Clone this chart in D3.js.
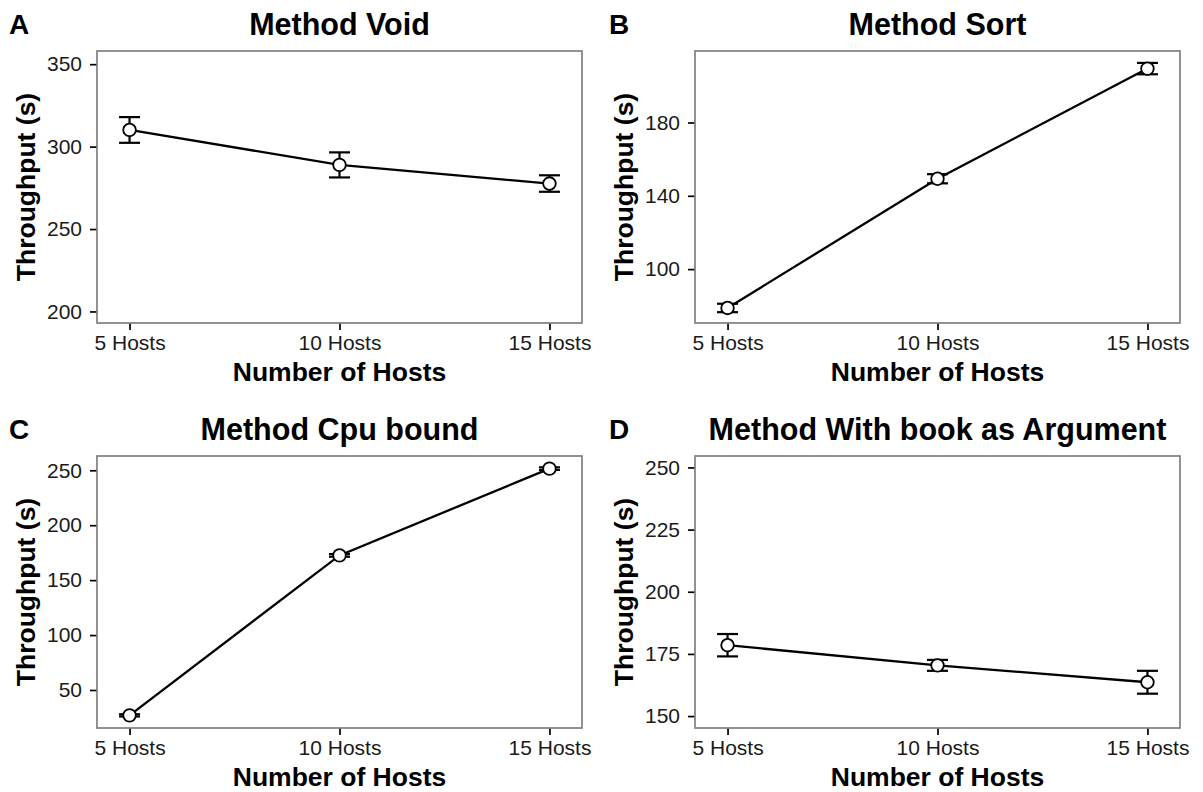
<!DOCTYPE html>
<html>
<head>
<meta charset="utf-8">
<script src="https://cdn.jsdelivr.net/npm/d3@7"></script>
<style>
  html, body { margin: 0; padding: 0; background: #ffffff; }
  svg { display: block; }
  text { font-family: "Liberation Sans", Arial, Helvetica, sans-serif; }
</style>
</head>
<body>
<svg id="chart" width="1203" height="792"></svg>
<script>
// ---- data ----
const categories = ["5 Hosts", "10 Hosts", "15 Hosts"];

const panelLabels = ["A", "B", "C", "D"];
const panelTitles = ["Method Void", "Method Sort", "Method Cpu bound", "Method With book as Argument"];

const voidMean = [310.1, 288.9, 277.6];
const voidErr  = [7.8, 7.6, 5.0];

const sortMean = [78.8, 149.3, 209.4];
const sortErr  = [2.3, 2.5, 3.1];

const cpuMean = [26.9, 172.5, 251.5];
const cpuErr  = [1.0, 1.2, 1.2];

const bookMean = [178.5, 170.4, 163.6];
const bookErr  = [4.5, 2.2, 4.6];

const voidTicks = [200, 250, 300, 350];
const sortTicks = [100, 140, 180];
const cpuTicks  = [50, 100, 150, 200, 250];
const bookTicks = [150, 175, 200, 225, 250];

const voidLimits = [193, 358];
const sortLimits = [70.6, 219];
const cpuLimits  = [15.4, 263];
const bookLimits = [145.2, 254.6];

const xTitle = "Number of Hosts";
const yTitle = "Throughput (s)";

// ---- layout ----
const panels = [
  { label: panelLabels[0], title: panelTitles[0], mean: voidMean, err: voidErr, ticks: voidTicks, lim: voidLimits, left: 97,  top: 51 },
  { label: panelLabels[1], title: panelTitles[1], mean: sortMean, err: sortErr, ticks: sortTicks, lim: sortLimits, left: 695, top: 51 },
  { label: panelLabels[2], title: panelTitles[2], mean: cpuMean,  err: cpuErr,  ticks: cpuTicks,  lim: cpuLimits,  left: 97,  top: 456 },
  { label: panelLabels[3], title: panelTitles[3], mean: bookMean, err: bookErr, ticks: bookTicks, lim: bookLimits, left: 695, top: 456 }
];
const PW = 485, PH = 272;
const capHalf = 10.5;

const svg = d3.select("#chart");

panels.forEach((p, i) => {
  const cellX = (i % 2) * 600;
  const g = svg.append("g");
  const x = d3.scalePoint().domain(categories).range([p.left, p.left + PW]).padding(0.155);
  const y = d3.scaleLinear().domain(p.lim).range([p.top + PH, p.top]);

  // panel label
  g.append("text")
    .attr("x", cellX + 9).attr("y", p.top - 17.5)
    .attr("font-size", 28).attr("font-weight", "bold")
    .text(p.label);

  // title
  g.append("text")
    .attr("x", p.left + PW / 2).attr("y", p.top - 16.5)
    .attr("text-anchor", "middle")
    .attr("font-size", 30.5).attr("font-weight", "bold")
    .text(p.title);

  // y axis
  const yAxis = d3.axisLeft(y).tickValues(p.ticks).tickSize(7).tickPadding(8).tickFormat(d3.format("d"));
  const ya = g.append("g").attr("transform", `translate(${p.left},0)`).call(yAxis);
  ya.select(".domain").remove();
  ya.selectAll(".tick line").attr("stroke", "#000").attr("stroke-width", 1.7);
  ya.selectAll(".tick text").attr("font-size", 21).attr("fill", "#1a1a1a")
    .attr("font-family", "Liberation Sans, Arial, sans-serif");

  // x axis
  const xAxis = d3.axisBottom(x).tickSize(7).tickPadding(5);
  const xa = g.append("g").attr("transform", `translate(0,${p.top + PH})`).call(xAxis);
  xa.select(".domain").remove();
  xa.selectAll(".tick line").attr("stroke", "#000").attr("stroke-width", 1.7);
  xa.selectAll(".tick text").attr("font-size", 21).attr("fill", "#1a1a1a")
    .attr("font-family", "Liberation Sans, Arial, sans-serif");

  // border
  g.append("rect")
    .attr("x", p.left).attr("y", p.top).attr("width", PW).attr("height", PH)
    .attr("fill", "none").attr("stroke", "#7f7f7f").attr("stroke-width", 1.7);

  // axis titles
  g.append("text")
    .attr("x", p.left + PW / 2).attr("y", p.top + PH + 58)
    .attr("text-anchor", "middle")
    .attr("font-size", 26.5).attr("font-weight", "bold")
    .text(xTitle);
  g.append("text")
    .attr("transform", `translate(${p.left - 62},${p.top + PH / 2}) rotate(-90)`)
    .attr("text-anchor", "middle")
    .attr("font-size", 26.5).attr("font-weight", "bold")
    .text(yTitle);

  const data = categories.map((c, k) => ({ c, m: p.mean[k], e: p.err[k] }));

  // error bars
  const eb = g.append("g").attr("stroke", "#000").attr("stroke-width", 2.2).attr("fill", "none");
  data.forEach(d => {
    const cx = x(d.c);
    eb.append("line").attr("x1", cx).attr("x2", cx).attr("y1", y(d.m - d.e)).attr("y2", y(d.m + d.e));
    eb.append("line").attr("x1", cx - capHalf).attr("x2", cx + capHalf).attr("y1", y(d.m + d.e)).attr("y2", y(d.m + d.e));
    eb.append("line").attr("x1", cx - capHalf).attr("x2", cx + capHalf).attr("y1", y(d.m - d.e)).attr("y2", y(d.m - d.e));
  });

  // line
  g.append("path").datum(data)
    .attr("fill", "none").attr("stroke", "#000").attr("stroke-width", 2.3)
    .attr("d", d3.line().x(d => x(d.c)).y(d => y(d.m)));

  // points
  g.selectAll("circle.pt").data(data).enter().append("circle")
    .attr("class", "pt")
    .attr("cx", d => x(d.c)).attr("cy", d => y(d.m)).attr("r", 6.3)
    .attr("fill", "#fff").attr("stroke", "#000").attr("stroke-width", 1.8);
});
</script>
</body>
</html>
